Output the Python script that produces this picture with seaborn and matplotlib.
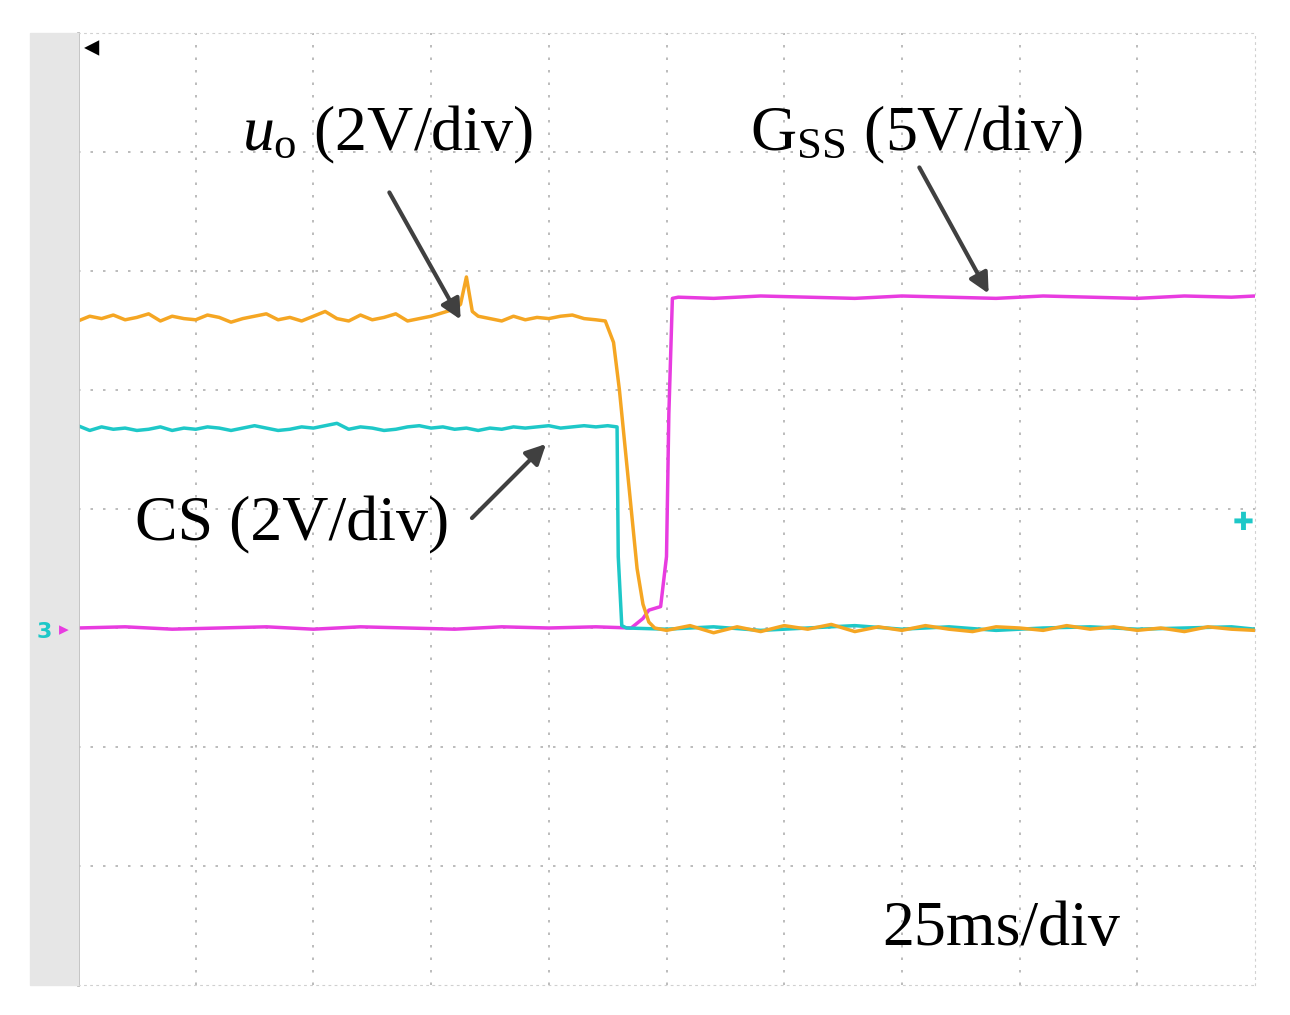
import numpy as np
import pandas as pd
import matplotlib
matplotlib.use("Agg")
import matplotlib.pyplot as plt
import seaborn as sns

plt.rcParams["font.family"] = "Liberation Serif"
plt.rcParams["mathtext.fontset"] = "custom"
plt.rcParams["mathtext.rm"] = "Liberation Serif"
plt.rcParams["mathtext.it"] = "Liberation Serif:italic"

# ---- data (units: divisions; x 0..10, y 0..8) ----
uo_x = [0.0,0.1,0.2,0.3,0.4,0.5,0.6,0.7,0.8,0.9,1.0,1.1,1.2,1.3,1.4,1.5,1.6,1.7,1.8,1.9,2.0,2.1,2.2,2.3,2.4,2.5,
        2.6,2.7,2.8,2.9,3.0,3.1,3.2,3.25,3.3,3.35,3.4,3.5,3.6,3.7,3.8,3.9,4.0,4.1,4.2,4.3,4.4,4.48,
        4.55,4.6,4.65,4.7,4.75,4.8,4.85,4.9,
        5.0,5.2,5.4,5.6,5.8,6.0,6.2,6.4,6.6,6.8,7.0,7.2,7.4,7.6,7.8,8.0,8.2,8.4,8.6,8.8,9.0,9.2,9.4,9.6,9.8,10.0]
uo_y = [5.58,5.62,5.60,5.63,5.59,5.61,5.64,5.58,5.62,5.60,5.59,5.63,5.61,5.57,5.60,5.62,5.64,5.59,5.61,5.58,5.62,5.66,5.60,5.58,5.63,5.59,
        5.61,5.64,5.58,5.60,5.62,5.65,5.68,5.72,5.95,5.66,5.62,5.60,5.58,5.62,5.59,5.61,5.60,5.62,5.63,5.60,5.59,5.58,
        5.40,5.00,4.50,4.00,3.50,3.20,3.05,3.00,
        2.98,3.02,2.96,3.01,2.97,3.02,2.99,3.03,2.97,3.01,2.98,3.02,2.99,2.97,3.01,3.00,2.98,3.02,2.99,3.01,2.98,3.00,2.97,3.01,2.99,2.98]
cs_x = [0.0,0.1,0.2,0.3,0.4,0.5,0.6,0.7,0.8,0.9,1.0,1.1,1.2,1.3,1.4,1.5,1.6,1.7,1.8,1.9,2.0,2.1,2.2,2.3,2.4,2.5,
        2.6,2.7,2.8,2.9,3.0,3.1,3.2,3.3,3.4,3.5,3.6,3.7,3.8,3.9,4.0,4.1,4.2,4.3,4.4,4.5,4.58,4.59,4.62,4.66,
        5.0,5.4,5.8,6.2,6.6,7.0,7.4,7.8,8.2,8.6,9.0,9.4,9.8,10.0]
cs_y = [4.70,4.66,4.69,4.67,4.68,4.66,4.67,4.69,4.66,4.68,4.67,4.69,4.68,4.66,4.68,4.70,4.68,4.66,4.67,4.69,4.68,4.70,4.72,4.67,4.69,4.68,
        4.66,4.67,4.69,4.70,4.68,4.69,4.67,4.68,4.66,4.68,4.67,4.69,4.68,4.69,4.70,4.68,4.69,4.70,4.69,4.70,4.69,3.60,3.02,3.00,
        2.99,3.01,2.98,3.00,3.02,2.99,3.01,2.98,3.00,3.01,2.99,3.00,3.01,2.99]
gss_x = [0.0,0.4,0.8,1.2,1.6,2.0,2.4,2.8,3.2,3.6,4.0,4.4,4.7,4.8,4.85,4.95,5.0,5.02,5.05,5.1,
         5.4,5.8,6.2,6.6,7.0,7.4,7.8,8.2,8.6,9.0,9.4,9.8,10.0]
gss_y = [3.00,3.01,2.99,3.00,3.01,2.99,3.01,3.00,2.99,3.01,3.00,3.01,3.00,3.08,3.15,3.18,3.6,4.8,5.77,5.78,
         5.77,5.79,5.78,5.77,5.79,5.78,5.77,5.79,5.78,5.77,5.79,5.78,5.79]

ORANGE, CYAN, MAGENTA = "#f5a623", "#1ec8c8", "#e83ce0"

fig = plt.figure(figsize=(12.9, 10.15), dpi=100)
fig.patches.append(plt.Rectangle((30/1290, 30/1015), 48/1290, 952/1015,
                   transform=fig.transFigure, color="#e6e6e6", zorder=0))
ax = fig.add_axes([78/1290, 30/1015, 1177/1290, 952/1015])
ax.set_xlim(0, 10); ax.set_ylim(0, 8)
for v in range(1, 10):
    ax.axvline(v, color="#b0b0b0", lw=1.2, ls=(0, (1.5, 6)))
for h in range(1, 8):
    ax.axhline(h, color="#b0b0b0", lw=1.2, ls=(0, (1.5, 6)))
for s in ["top", "right", "bottom"]:
    ax.spines[s].set_color("#d0d0d0"); ax.spines[s].set_linestyle((0, (1.5, 4)))
ax.spines["left"].set_color("#b8b8b8"); ax.spines["left"].set_linewidth(2)
ax.set_xticks([]); ax.set_yticks([])

for xs, ys, c in [(gss_x, gss_y, MAGENTA), (cs_x, cs_y, CYAN), (uo_x, uo_y, ORANGE)]:
    sns.lineplot(x=xs, y=ys, ax=ax, color=c, lw=2.5, sort=False, estimator=None)

def d(px, py):
    return ((px - 78) / 117.7, (985 - py) / 119)

fs = 46
ax.text(*d(242, 135), r"$u_\mathrm{o}$ (2V/div)", fontsize=fs, va="center")
ax.text(*d(750, 135), r"G$_\mathrm{SS}$ (5V/div)", fontsize=fs, va="center")
ax.text(*d(135, 525), "CS (2V/div)", fontsize=fs, va="center")
ax.text(*d(882, 930), "25ms/div", fontsize=fs, va="center")
ap = dict(arrowstyle="-|>,head_length=1.2,head_width=0.6", color="#404040", lw=3)
ax.annotate("", xy=d(462, 322), xytext=d(388, 190), arrowprops=ap)
ax.annotate("", xy=d(990, 296), xytext=d(918, 165), arrowprops=ap)
ax.annotate("", xy=d(548, 442), xytext=d(470, 520), arrowprops=ap)

sym = dict(family="DejaVu Sans", ha="center", va="center")
fig.text(44/1290, 1 - 632/1015, "3", color=CYAN, fontsize=16, weight="bold", **sym)
fig.text(64/1290, 1 - 630/1015, "▸", color=MAGENTA, fontsize=14, **sym)
fig.text(1243/1290, 1 - 523/1015, "✚", color=CYAN, fontsize=18, **sym)
fig.text(92/1290, 1 - 48/1015, "◂", color="black", fontsize=22, **sym)

fig.savefig("out.png", dpi=100, facecolor="white")
